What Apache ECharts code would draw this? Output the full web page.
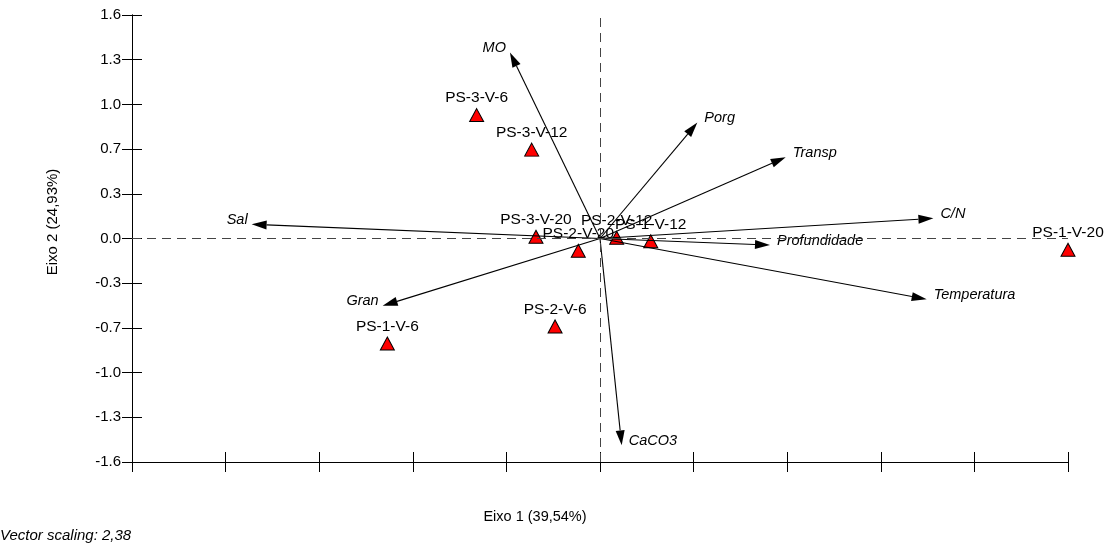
<!DOCTYPE html>
<html>
<head>
<meta charset="utf-8">
<script src="https://cdn.jsdelivr.net/npm/echarts@6/dist/echarts.min.js"></script>
<style>
  html, body { margin: 0; padding: 0; background: #fff; }
  #chart { width: 1110px; height: 551px; }
</style>
</head>
<body>
<div id="chart"></div>
<script>
// Sample scores on the first two ordination axes
const siteNames = ['PS-3-V-6', 'PS-3-V-12', 'PS-3-V-20', 'PS-2-V-20', 'PS-2-V-12', 'PS-1-V-12', 'PS-1-V-20', 'PS-1-V-6', 'PS-2-V-6'];
const siteX = [-0.659, -0.365, -0.342, -0.116, 0.089, 0.271, 2.50, -1.136, -0.240];
const siteY = [0.911, 0.656, 0.013, -0.091, 0.005, -0.020, -0.083, -0.775, -0.649];

// Environmental variable vectors (already multiplied by the vector scaling)
const varNames = ['MO', 'Porg', 'Transp', 'C/N', 'Profundidade', 'Temperatura', 'CaCO3', 'Gran', 'Sal'];
const varX = [-0.481, 0.520, 0.992, 1.781, 0.908, 1.745, 0.116, -1.161, -1.861];
const varY = [1.374, 0.856, 0.600, 0.149, -0.048, -0.449, -1.527, -0.497, 0.105];

// Axis 2 tick labels, bottom to top
const yTickLabels = ['-1.6', '-1.3', '-1.0', '-0.7', '-0.3', '0.0', '0.3', '0.7', '1.0', '1.3', '1.6'];
const yMin = -1.65, yMax = 1.65, yStep = 0.33;
const xMin = -2.5, xMax = 2.5, xStep = 0.5;

const xTitle = 'Eixo 1 (39,54%)';
const yTitle = 'Eixo 2 (24,93%)';
const noteText = 'Vector scaling: 2,38';

const FONT = '"Liberation Sans", Arial, Helvetica, sans-serif';

const chart = echarts.init(document.getElementById('chart'), null, { renderer: 'canvas' });

const axisLineStyle = { show: true, onZero: false, lineStyle: { color: '#000', width: 1 } };

function xAxisDef(inside) {
  return {
    type: 'value', min: xMin, max: xMax, interval: xStep, position: 'bottom',
    axisLine: axisLineStyle,
    axisTick: { show: true, inside: inside, length: 10, lineStyle: { color: '#000', width: 1 } },
    axisLabel: { show: false },
    splitLine: { show: false }
  };
}
function yAxisDef(inside, labels) {
  return {
    type: 'value', min: yMin, max: yMax, interval: yStep, position: 'left',
    axisLine: axisLineStyle,
    axisTick: { show: true, inside: inside, length: 10, lineStyle: { color: '#000', width: 1 } },
    axisLabel: {
      show: labels, margin: 11, color: '#000', fontFamily: FONT, fontSize: 15,
      formatter: v => yTickLabels[Math.round((v - yMin) / yStep)]
    },
    splitLine: { show: false }
  };
}

// Arrow from the origin to the variable's loading, with an italic name at its tip
function renderVector(params, api) {
  const o = api.coord([0, 0]);
  const t = api.coord([api.value(0), api.value(1)]);
  const dx = t[0] - o[0], dy = t[1] - o[1];
  const len = Math.hypot(dx, dy);
  const ux = dx / len, uy = dy / len;
  const headLen = 15, headHalf = 4.5;
  const bx = t[0] - ux * headLen, by = t[1] - uy * headLen;
  const px = -uy, py = ux;
  const right = dx >= 0;
  return {
    type: 'group',
    children: [
      { type: 'line', shape: { x1: o[0], y1: o[1], x2: bx, y2: by },
        style: { stroke: '#000', lineWidth: 1.1 } },
      { type: 'polygon',
        shape: { points: [[t[0], t[1]], [bx + px * headHalf, by + py * headHalf], [bx - px * headHalf, by - py * headHalf]] },
        style: { fill: '#000' } },
      { type: 'text', x: t[0] + (right ? 7 : -4), y: t[1] - 4.5,
        style: { text: varNames[params.dataIndex], fill: '#000',
                 font: 'italic 14.5px ' + FONT,
                 align: right ? 'left' : 'right', verticalAlign: 'middle' } }
    ]
  };
}

chart.setOption({
  animation: false,
  backgroundColor: '#fff',
  grid: { left: 132, right: 42, top: 15, bottom: 89 },
  xAxis: [xAxisDef(false), xAxisDef(true)],
  yAxis: [yAxisDef(false, true), yAxisDef(true, false)],
  graphic: [
    { type: 'text', x: 535, y: 517,
      style: { text: xTitle, fill: '#000', font: '14.5px ' + FONT, align: 'center', verticalAlign: 'middle' } },
    { type: 'text', x: 53, y: 222, rotation: Math.PI / 2,
      style: { text: yTitle, fill: '#000', font: '15px ' + FONT, align: 'center', verticalAlign: 'middle' } },
    { type: 'text', x: 0, y: 536,
      style: { text: noteText, fill: '#000', font: 'italic 15px ' + FONT, align: 'left', verticalAlign: 'middle' } }
  ],
  series: [
    {
      type: 'scatter',
      xAxisIndex: 0, yAxisIndex: 0,
      data: siteX.map((x, i) => ({ name: siteNames[i], value: [x, siteY[i]] })),
      symbol: 'triangle',
      symbolSize: [14, 13],
      itemStyle: { color: '#ff0000', borderColor: '#000', borderWidth: 1, opacity: 1 },
      label: {
        show: true, position: 'top', distance: 2,
        formatter: p => p.name,
        color: '#000', fontFamily: FONT, fontSize: 15.5
      },
      markLine: {
        silent: true,
        symbol: ['none', 'none'],
        label: { show: false },
        lineStyle: { color: '#444', width: 1, type: [9, 6] },
        data: [{ xAxis: 0 }, { yAxis: 0 }]
      },
      z: 2
    },
    {
      type: 'custom',
      xAxisIndex: 0, yAxisIndex: 0,
      data: varX.map((x, i) => [x, varY[i]]),
      renderItem: renderVector,
      z: 3
    }
  ]
});
</script>
</body>
</html>
